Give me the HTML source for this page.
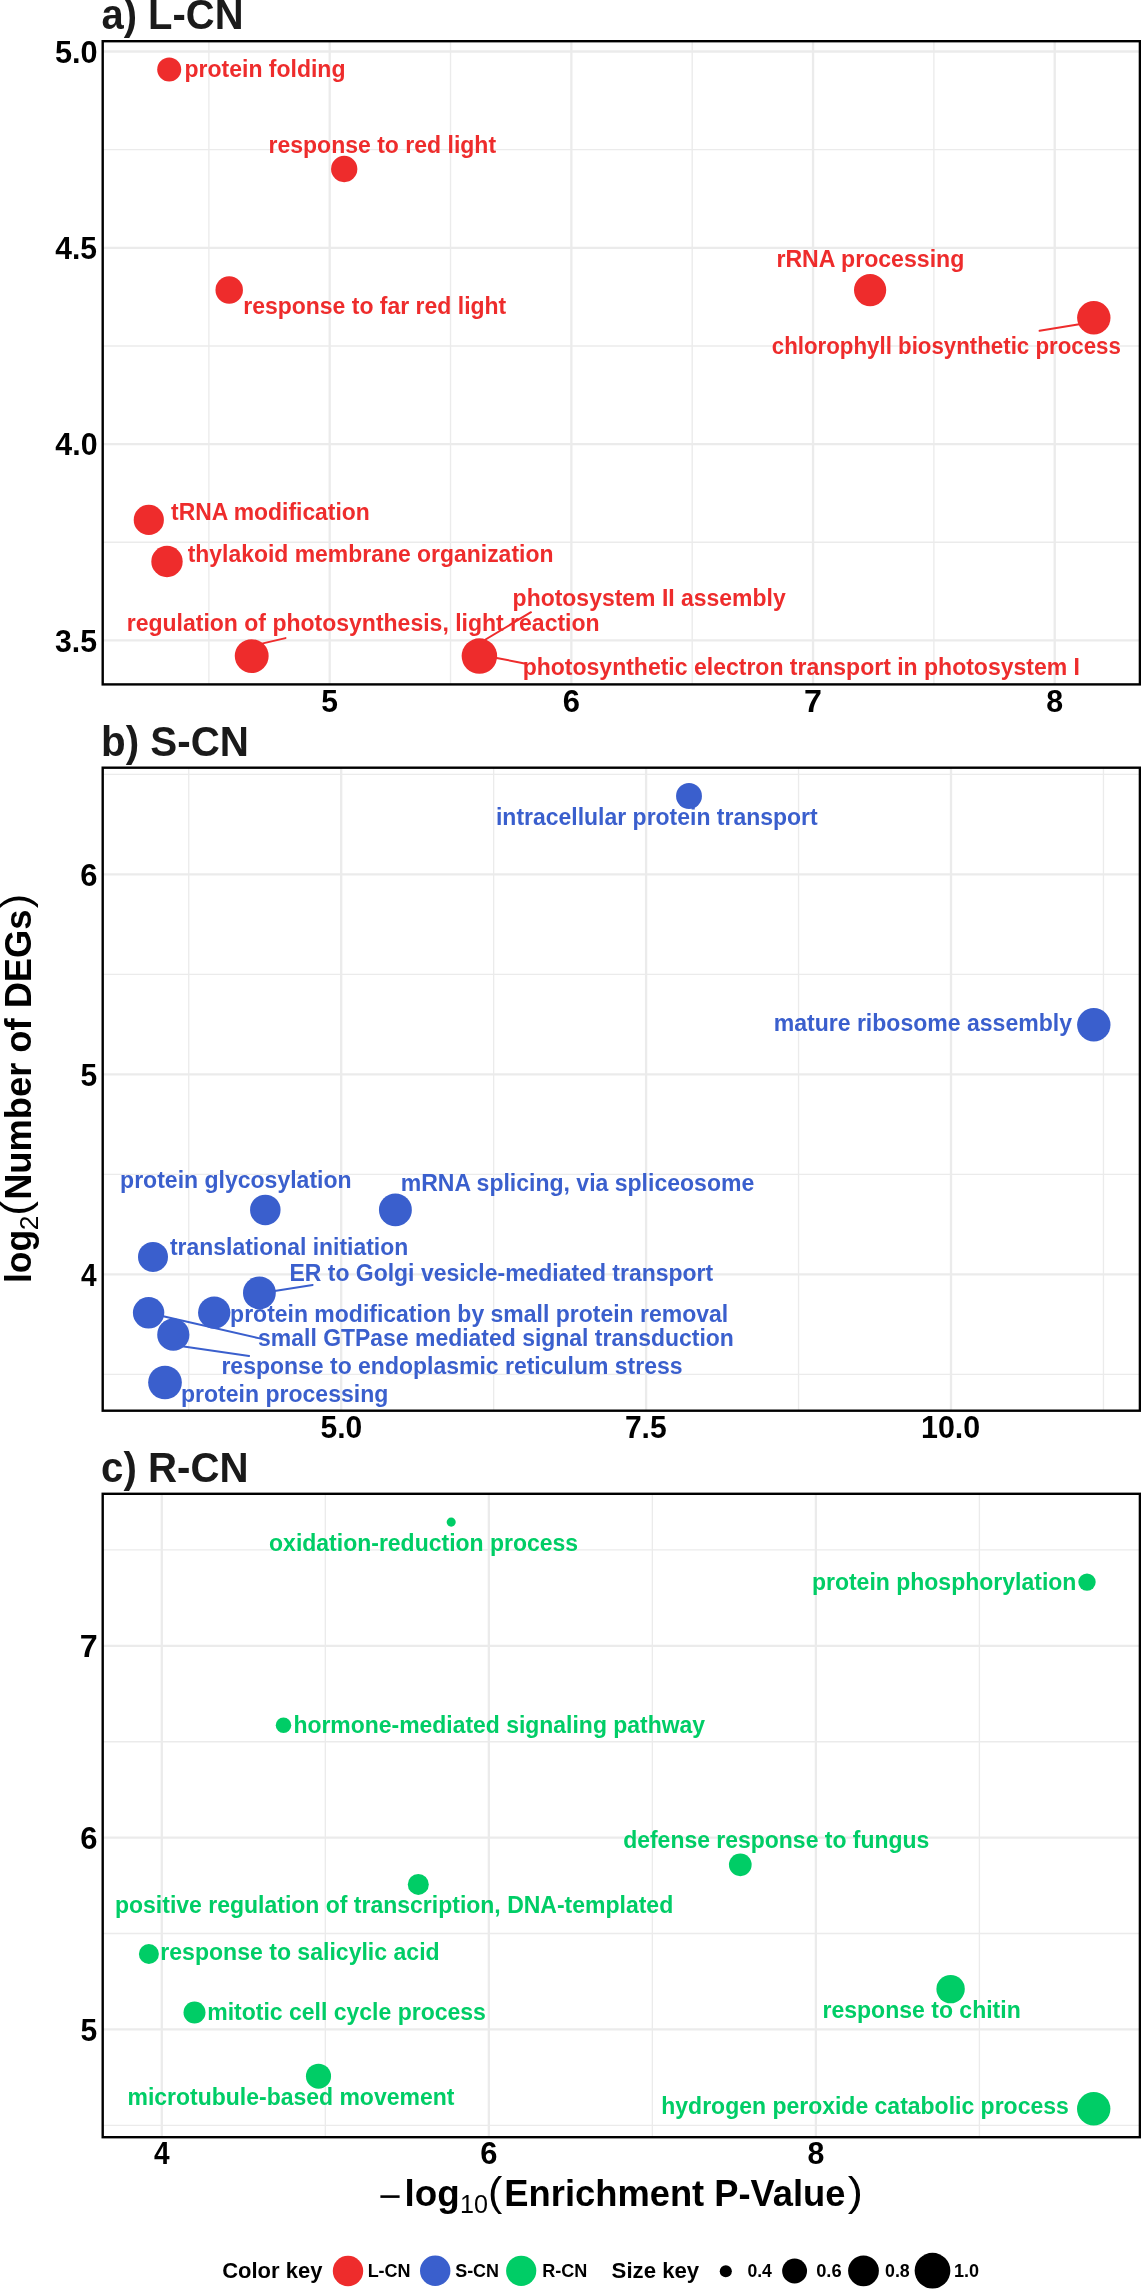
<!DOCTYPE html>
<html><head><meta charset="utf-8"><style>
html,body{margin:0;padding:0;background:#fff;}
svg{display:block;font-family:"Liberation Sans", sans-serif;will-change:transform;}
</style></head><body>
<svg width="1141" height="2289" viewBox="0 0 1141 2289">
<rect width="1141" height="2289" fill="#fff"/>
<line x1="208.87" y1="41.2" x2="208.87" y2="684.4" stroke="#EBEBEB" stroke-width="1.35"/>
<line x1="450.53" y1="41.2" x2="450.53" y2="684.4" stroke="#EBEBEB" stroke-width="1.35"/>
<line x1="692.20" y1="41.2" x2="692.20" y2="684.4" stroke="#EBEBEB" stroke-width="1.35"/>
<line x1="933.88" y1="41.2" x2="933.88" y2="684.4" stroke="#EBEBEB" stroke-width="1.35"/>
<line x1="102.7" y1="149.65" x2="1139.9" y2="149.65" stroke="#EBEBEB" stroke-width="1.35"/>
<line x1="102.7" y1="345.95" x2="1139.9" y2="345.95" stroke="#EBEBEB" stroke-width="1.35"/>
<line x1="102.7" y1="542.25" x2="1139.9" y2="542.25" stroke="#EBEBEB" stroke-width="1.35"/>
<line x1="329.70" y1="41.2" x2="329.70" y2="684.4" stroke="#EBEBEB" stroke-width="2.3"/>
<line x1="571.37" y1="41.2" x2="571.37" y2="684.4" stroke="#EBEBEB" stroke-width="2.3"/>
<line x1="813.04" y1="41.2" x2="813.04" y2="684.4" stroke="#EBEBEB" stroke-width="2.3"/>
<line x1="1054.71" y1="41.2" x2="1054.71" y2="684.4" stroke="#EBEBEB" stroke-width="2.3"/>
<line x1="102.7" y1="51.50" x2="1139.9" y2="51.50" stroke="#EBEBEB" stroke-width="2.3"/>
<line x1="102.7" y1="247.80" x2="1139.9" y2="247.80" stroke="#EBEBEB" stroke-width="2.3"/>
<line x1="102.7" y1="444.10" x2="1139.9" y2="444.10" stroke="#EBEBEB" stroke-width="2.3"/>
<line x1="102.7" y1="640.40" x2="1139.9" y2="640.40" stroke="#EBEBEB" stroke-width="2.3"/>
<line x1="188.75" y1="767.7" x2="188.75" y2="1410.7" stroke="#EBEBEB" stroke-width="1.35"/>
<line x1="493.65" y1="767.7" x2="493.65" y2="1410.7" stroke="#EBEBEB" stroke-width="1.35"/>
<line x1="798.55" y1="767.7" x2="798.55" y2="1410.7" stroke="#EBEBEB" stroke-width="1.35"/>
<line x1="1103.45" y1="767.7" x2="1103.45" y2="1410.7" stroke="#EBEBEB" stroke-width="1.35"/>
<line x1="102.7" y1="774.40" x2="1139.9" y2="774.40" stroke="#EBEBEB" stroke-width="1.35"/>
<line x1="102.7" y1="974.40" x2="1139.9" y2="974.40" stroke="#EBEBEB" stroke-width="1.35"/>
<line x1="102.7" y1="1174.40" x2="1139.9" y2="1174.40" stroke="#EBEBEB" stroke-width="1.35"/>
<line x1="102.7" y1="1374.40" x2="1139.9" y2="1374.40" stroke="#EBEBEB" stroke-width="1.35"/>
<line x1="341.20" y1="767.7" x2="341.20" y2="1410.7" stroke="#EBEBEB" stroke-width="2.3"/>
<line x1="646.10" y1="767.7" x2="646.10" y2="1410.7" stroke="#EBEBEB" stroke-width="2.3"/>
<line x1="951.00" y1="767.7" x2="951.00" y2="1410.7" stroke="#EBEBEB" stroke-width="2.3"/>
<line x1="102.7" y1="874.40" x2="1139.9" y2="874.40" stroke="#EBEBEB" stroke-width="2.3"/>
<line x1="102.7" y1="1074.40" x2="1139.9" y2="1074.40" stroke="#EBEBEB" stroke-width="2.3"/>
<line x1="102.7" y1="1274.40" x2="1139.9" y2="1274.40" stroke="#EBEBEB" stroke-width="2.3"/>
<line x1="325.32" y1="1493.8" x2="325.32" y2="2137.2" stroke="#EBEBEB" stroke-width="1.35"/>
<line x1="652.36" y1="1493.8" x2="652.36" y2="2137.2" stroke="#EBEBEB" stroke-width="1.35"/>
<line x1="979.40" y1="1493.8" x2="979.40" y2="2137.2" stroke="#EBEBEB" stroke-width="1.35"/>
<line x1="102.7" y1="1549.90" x2="1139.9" y2="1549.90" stroke="#EBEBEB" stroke-width="1.35"/>
<line x1="102.7" y1="1741.70" x2="1139.9" y2="1741.70" stroke="#EBEBEB" stroke-width="1.35"/>
<line x1="102.7" y1="1933.50" x2="1139.9" y2="1933.50" stroke="#EBEBEB" stroke-width="1.35"/>
<line x1="102.7" y1="2125.30" x2="1139.9" y2="2125.30" stroke="#EBEBEB" stroke-width="1.35"/>
<line x1="161.80" y1="1493.8" x2="161.80" y2="2137.2" stroke="#EBEBEB" stroke-width="2.3"/>
<line x1="488.84" y1="1493.8" x2="488.84" y2="2137.2" stroke="#EBEBEB" stroke-width="2.3"/>
<line x1="815.88" y1="1493.8" x2="815.88" y2="2137.2" stroke="#EBEBEB" stroke-width="2.3"/>
<line x1="102.7" y1="1645.80" x2="1139.9" y2="1645.80" stroke="#EBEBEB" stroke-width="2.3"/>
<line x1="102.7" y1="1837.60" x2="1139.9" y2="1837.60" stroke="#EBEBEB" stroke-width="2.3"/>
<line x1="102.7" y1="2029.40" x2="1139.9" y2="2029.40" stroke="#EBEBEB" stroke-width="2.3"/>
<line x1="1080.8" y1="324.1" x2="1039.6" y2="330.8" stroke="#EE2C2C" stroke-width="2.0" stroke-linecap="round"/>
<line x1="259.7" y1="644.1" x2="285.5" y2="638.1" stroke="#EE2C2C" stroke-width="2.0" stroke-linecap="round"/>
<line x1="483.0" y1="641.0" x2="531.0" y2="612.2" stroke="#EE2C2C" stroke-width="2.0" stroke-linecap="round"/>
<line x1="494.0" y1="657.4" x2="524.6" y2="663.4" stroke="#EE2C2C" stroke-width="2.0" stroke-linecap="round"/>
<line x1="273.0" y1="1291.3" x2="312.6" y2="1285.0" stroke="#3A5FCD" stroke-width="2.0" stroke-linecap="round"/>
<line x1="161.0" y1="1315.8" x2="259.6" y2="1338.4" stroke="#3A5FCD" stroke-width="2.0" stroke-linecap="round"/>
<line x1="182.0" y1="1346.3" x2="249.1" y2="1355.9" stroke="#3A5FCD" stroke-width="2.0" stroke-linecap="round"/>
<circle cx="169.2" cy="69.6" r="12.00" fill="#EE2C2C"/>
<circle cx="344.2" cy="169.0" r="13.15" fill="#EE2C2C"/>
<circle cx="229.2" cy="290.0" r="13.75" fill="#EE2C2C"/>
<circle cx="870.1" cy="290.1" r="16.10" fill="#EE2C2C"/>
<circle cx="1093.8" cy="317.8" r="16.70" fill="#EE2C2C"/>
<circle cx="148.8" cy="519.9" r="15.10" fill="#EE2C2C"/>
<circle cx="167.0" cy="561.5" r="15.70" fill="#EE2C2C"/>
<circle cx="251.7" cy="656.1" r="16.95" fill="#EE2C2C"/>
<circle cx="479.4" cy="656.1" r="17.75" fill="#EE2C2C"/>
<circle cx="689.0" cy="796.0" r="12.95" fill="#3A5FCD"/>
<circle cx="1093.8" cy="1024.8" r="16.70" fill="#3A5FCD"/>
<circle cx="265.3" cy="1209.9" r="15.25" fill="#3A5FCD"/>
<circle cx="395.4" cy="1209.9" r="16.45" fill="#3A5FCD"/>
<circle cx="153.0" cy="1256.9" r="15.00" fill="#3A5FCD"/>
<circle cx="259.4" cy="1292.9" r="16.40" fill="#3A5FCD"/>
<circle cx="148.6" cy="1312.8" r="15.70" fill="#3A5FCD"/>
<circle cx="214.2" cy="1312.6" r="16.15" fill="#3A5FCD"/>
<circle cx="173.3" cy="1334.7" r="16.10" fill="#3A5FCD"/>
<circle cx="165.0" cy="1382.5" r="16.85" fill="#3A5FCD"/>
<circle cx="451.2" cy="1522.1" r="4.55" fill="#00CD66"/>
<circle cx="1087.0" cy="1582.1" r="8.70" fill="#00CD66"/>
<circle cx="283.5" cy="1725.3" r="7.75" fill="#00CD66"/>
<circle cx="740.3" cy="1864.8" r="11.35" fill="#00CD66"/>
<circle cx="418.3" cy="1884.4" r="10.50" fill="#00CD66"/>
<circle cx="148.9" cy="1954.0" r="10.00" fill="#00CD66"/>
<circle cx="194.5" cy="2012.5" r="11.00" fill="#00CD66"/>
<circle cx="318.5" cy="2076.2" r="12.55" fill="#00CD66"/>
<circle cx="950.6" cy="1989.1" r="14.20" fill="#00CD66"/>
<circle cx="1093.7" cy="2108.8" r="16.70" fill="#00CD66"/>
<text x="184.51" y="76.60" font-size="23" font-weight="bold" fill="#EE2C2C" textLength="160.96" lengthAdjust="spacingAndGlyphs">protein folding</text>
<text x="268.50" y="153.30" font-size="23" font-weight="bold" fill="#EE2C2C" textLength="227.55" lengthAdjust="spacingAndGlyphs">response to red light</text>
<text x="243.21" y="314.20" font-size="23" font-weight="bold" fill="#EE2C2C" textLength="263.06" lengthAdjust="spacingAndGlyphs">response to far red light</text>
<text x="776.40" y="266.60" font-size="23" font-weight="bold" fill="#EE2C2C" textLength="187.94" lengthAdjust="spacingAndGlyphs">rRNA processing</text>
<text x="771.81" y="353.70" font-size="23" font-weight="bold" fill="#EE2C2C" textLength="349.09" lengthAdjust="spacingAndGlyphs">chlorophyll biosynthetic process</text>
<text x="171.07" y="519.60" font-size="23" font-weight="bold" fill="#EE2C2C" textLength="198.70" lengthAdjust="spacingAndGlyphs">tRNA modification</text>
<text x="187.67" y="562.00" font-size="23" font-weight="bold" fill="#EE2C2C" textLength="365.76" lengthAdjust="spacingAndGlyphs">thylakoid membrane organization</text>
<text x="126.70" y="631.40" font-size="23" font-weight="bold" fill="#EE2C2C" textLength="472.92" lengthAdjust="spacingAndGlyphs">regulation of photosynthesis, light reaction</text>
<text x="512.61" y="606.30" font-size="23" font-weight="bold" fill="#EE2C2C" textLength="273.08" lengthAdjust="spacingAndGlyphs">photosystem II assembly</text>
<text x="522.70" y="675.20" font-size="23" font-weight="bold" fill="#EE2C2C" textLength="557.31" lengthAdjust="spacingAndGlyphs">photosynthetic electron transport in photosystem I</text>
<text x="495.99" y="825.00" font-size="23" font-weight="bold" fill="#3A5FCD" textLength="321.70" lengthAdjust="spacingAndGlyphs">intracellular protein transport</text>
<text x="773.70" y="1030.80" font-size="23" font-weight="bold" fill="#3A5FCD" textLength="298.31" lengthAdjust="spacingAndGlyphs">mature ribosome assembly</text>
<text x="120.10" y="1187.80" font-size="23" font-weight="bold" fill="#3A5FCD" textLength="231.53" lengthAdjust="spacingAndGlyphs">protein glycosylation</text>
<text x="400.70" y="1190.50" font-size="23" font-weight="bold" fill="#3A5FCD" textLength="353.54" lengthAdjust="spacingAndGlyphs">mRNA splicing, via spliceosome</text>
<text x="169.97" y="1255.10" font-size="23" font-weight="bold" fill="#3A5FCD" textLength="238.20" lengthAdjust="spacingAndGlyphs">translational initiation</text>
<text x="289.51" y="1280.50" font-size="23" font-weight="bold" fill="#3A5FCD" textLength="423.60" lengthAdjust="spacingAndGlyphs">ER to Golgi vesicle-mediated transport</text>
<text x="230.11" y="1322.30" font-size="23" font-weight="bold" fill="#3A5FCD" textLength="498.02" lengthAdjust="spacingAndGlyphs">protein modification by small protein removal</text>
<text x="258.10" y="1345.60" font-size="23" font-weight="bold" fill="#3A5FCD" textLength="475.74" lengthAdjust="spacingAndGlyphs">small GTPase mediated signal transduction</text>
<text x="221.41" y="1374.40" font-size="23" font-weight="bold" fill="#3A5FCD" textLength="461.17" lengthAdjust="spacingAndGlyphs">response to endoplasmic reticulum stress</text>
<text x="181.00" y="1401.50" font-size="23" font-weight="bold" fill="#3A5FCD" textLength="207.33" lengthAdjust="spacingAndGlyphs">protein processing</text>
<text x="269.08" y="1550.50" font-size="23" font-weight="bold" fill="#00CD66" textLength="309.08" lengthAdjust="spacingAndGlyphs">oxidation-reduction process</text>
<text x="811.91" y="1590.00" font-size="23" font-weight="bold" fill="#00CD66" textLength="264.47" lengthAdjust="spacingAndGlyphs">protein phosphorylation</text>
<text x="293.39" y="1733.40" font-size="23" font-weight="bold" fill="#00CD66" textLength="411.67" lengthAdjust="spacingAndGlyphs">hormone-mediated signaling pathway</text>
<text x="623.18" y="1848.20" font-size="23" font-weight="bold" fill="#00CD66" textLength="306.16" lengthAdjust="spacingAndGlyphs">defense response to fungus</text>
<text x="115.01" y="1912.50" font-size="23" font-weight="bold" fill="#00CD66" textLength="558.20" lengthAdjust="spacingAndGlyphs">positive regulation of transcription, DNA-templated</text>
<text x="160.30" y="1959.70" font-size="23" font-weight="bold" fill="#00CD66" textLength="279.34" lengthAdjust="spacingAndGlyphs">response to salicylic acid</text>
<text x="207.21" y="2019.80" font-size="23" font-weight="bold" fill="#00CD66" textLength="278.67" lengthAdjust="spacingAndGlyphs">mitotic cell cycle process</text>
<text x="127.51" y="2104.50" font-size="23" font-weight="bold" fill="#00CD66" textLength="326.85" lengthAdjust="spacingAndGlyphs">microtubule-based movement</text>
<text x="822.50" y="2017.50" font-size="23" font-weight="bold" fill="#00CD66" textLength="198.23" lengthAdjust="spacingAndGlyphs">response to chitin</text>
<text x="661.29" y="2114.30" font-size="23" font-weight="bold" fill="#00CD66" textLength="407.49" lengthAdjust="spacingAndGlyphs">hydrogen peroxide catabolic process</text>
<rect x="102.7" y="41.2" width="1037.2" height="643.1999999999999" fill="none" stroke="#000" stroke-width="2.4"/>
<rect x="102.7" y="767.7" width="1037.2" height="643.0" fill="none" stroke="#000" stroke-width="2.4"/>
<rect x="102.7" y="1493.8" width="1037.2" height="643.3999999999999" fill="none" stroke="#000" stroke-width="2.4"/>
<text x="54.88" y="62.60" font-size="32" font-weight="bold" fill="#000" textLength="42.65" lengthAdjust="spacingAndGlyphs">5.0</text>
<text x="55.35" y="258.90" font-size="32" font-weight="bold" fill="#000" textLength="41.70" lengthAdjust="spacingAndGlyphs">4.5</text>
<text x="55.34" y="455.20" font-size="32" font-weight="bold" fill="#000" textLength="42.17" lengthAdjust="spacingAndGlyphs">4.0</text>
<text x="55.04" y="651.50" font-size="32" font-weight="bold" fill="#000" textLength="42.02" lengthAdjust="spacingAndGlyphs">3.5</text>
<text x="321.30" y="712.30" font-size="32" font-weight="bold" fill="#000" textLength="16.69" lengthAdjust="spacingAndGlyphs">5</text>
<text x="562.79" y="712.30" font-size="32" font-weight="bold" fill="#000" textLength="17.20" lengthAdjust="spacingAndGlyphs">6</text>
<text x="804.09" y="712.30" font-size="32" font-weight="bold" fill="#000" textLength="17.94" lengthAdjust="spacingAndGlyphs">7</text>
<text x="1046.30" y="712.30" font-size="32" font-weight="bold" fill="#000" textLength="16.85" lengthAdjust="spacingAndGlyphs">8</text>
<text x="80.22" y="885.70" font-size="32" font-weight="bold" fill="#000" textLength="17.20" lengthAdjust="spacingAndGlyphs">6</text>
<text x="80.40" y="1085.70" font-size="32" font-weight="bold" fill="#000" textLength="16.69" lengthAdjust="spacingAndGlyphs">5</text>
<text x="80.88" y="1285.70" font-size="32" font-weight="bold" fill="#000" textLength="15.59" lengthAdjust="spacingAndGlyphs">4</text>
<text x="320.50" y="1438.40" font-size="32" font-weight="bold" fill="#000" textLength="41.70" lengthAdjust="spacingAndGlyphs">5.0</text>
<text x="624.95" y="1438.40" font-size="32" font-weight="bold" fill="#000" textLength="41.70" lengthAdjust="spacingAndGlyphs">7.5</text>
<text x="921.02" y="1438.40" font-size="32" font-weight="bold" fill="#000" textLength="59.24" lengthAdjust="spacingAndGlyphs">10.0</text>
<text x="79.85" y="1657.10" font-size="32" font-weight="bold" fill="#000" textLength="17.94" lengthAdjust="spacingAndGlyphs">7</text>
<text x="80.22" y="1848.90" font-size="32" font-weight="bold" fill="#000" textLength="17.20" lengthAdjust="spacingAndGlyphs">6</text>
<text x="80.40" y="2040.70" font-size="32" font-weight="bold" fill="#000" textLength="16.69" lengthAdjust="spacingAndGlyphs">5</text>
<text x="153.88" y="2164.40" font-size="32" font-weight="bold" fill="#000" textLength="15.59" lengthAdjust="spacingAndGlyphs">4</text>
<text x="480.26" y="2164.40" font-size="32" font-weight="bold" fill="#000" textLength="17.20" lengthAdjust="spacingAndGlyphs">6</text>
<text x="807.47" y="2164.40" font-size="32" font-weight="bold" fill="#000" textLength="16.85" lengthAdjust="spacingAndGlyphs">8</text>
<text x="101.50" y="29.20" font-size="42" font-weight="bold" fill="#1A1A1A" textLength="142.01" lengthAdjust="spacingAndGlyphs">a) L-CN</text>
<text x="100.98" y="755.90" font-size="42" font-weight="bold" fill="#1A1A1A" textLength="148.00" lengthAdjust="spacingAndGlyphs">b) S-CN</text>
<text x="101.09" y="1482.00" font-size="42" font-weight="bold" fill="#1A1A1A" textLength="147.49" lengthAdjust="spacingAndGlyphs">c) R-CN</text>
<rect x="380.4" y="2195.3" width="19.2" height="2.6" fill="#000"/>
<text x="404.63" y="2206.20" font-size="36" font-weight="bold" fill="#000" textLength="55.15" lengthAdjust="spacingAndGlyphs">log</text>
<text x="460.12" y="2212.70" font-size="26" font-weight="normal" fill="#000" textLength="27.95" lengthAdjust="spacingAndGlyphs">10</text>
<text x="488.12" y="2205.60" font-size="41" font-weight="normal" fill="#000" textLength="14.33" lengthAdjust="spacingAndGlyphs">(</text>
<text x="504.34" y="2206.20" font-size="36" font-weight="bold" fill="#000" textLength="341.20" lengthAdjust="spacingAndGlyphs">Enrichment P-Value</text>
<text x="847.75" y="2205.60" font-size="41" font-weight="normal" fill="#000" textLength="15.12" lengthAdjust="spacingAndGlyphs">)</text>
<g transform="rotate(-90)"><text x="-1282.98" y="31.00" font-size="36" font-weight="bold" fill="#000" textLength="53.06" lengthAdjust="spacingAndGlyphs">log</text><text x="-1230.32" y="37.70" font-size="26" font-weight="normal" fill="#000" textLength="14.67" lengthAdjust="spacingAndGlyphs">2</text><text x="-1215.87" y="30.20" font-size="41" font-weight="normal" fill="#000" textLength="14.83" lengthAdjust="spacingAndGlyphs">(</text><text x="-1199.86" y="31.00" font-size="36" font-weight="bold" fill="#000" textLength="290.35" lengthAdjust="spacingAndGlyphs">Number of DEGs</text><text x="-908.33" y="30.20" font-size="41" font-weight="normal" fill="#000" textLength="14.47" lengthAdjust="spacingAndGlyphs">)</text></g>
<text x="222.22" y="2278.40" font-size="22" font-weight="bold" fill="#000" textLength="100.14" lengthAdjust="spacingAndGlyphs">Color key</text>
<circle cx="348.0" cy="2271.0" r="15.20" fill="#EE2C2C"/>
<text x="367.63" y="2277.40" font-size="18" font-weight="bold" fill="#000" textLength="43.00" lengthAdjust="spacingAndGlyphs">L-CN</text>
<circle cx="435.2" cy="2270.8" r="15.20" fill="#3A5FCD"/>
<text x="455.16" y="2277.40" font-size="18" font-weight="bold" fill="#000" textLength="43.89" lengthAdjust="spacingAndGlyphs">S-CN</text>
<circle cx="521.2" cy="2270.8" r="15.10" fill="#00CD66"/>
<text x="542.23" y="2277.40" font-size="18" font-weight="bold" fill="#000" textLength="45.13" lengthAdjust="spacingAndGlyphs">R-CN</text>
<text x="611.63" y="2278.30" font-size="22" font-weight="bold" fill="#000" textLength="87.53" lengthAdjust="spacingAndGlyphs">Size key</text>
<circle cx="725.8" cy="2271.3" r="6.05" fill="#000"/>
<text x="747.40" y="2277.40" font-size="18" font-weight="bold" fill="#000" textLength="24.50" lengthAdjust="spacingAndGlyphs">0.4</text>
<circle cx="794.6" cy="2271.0" r="12.45" fill="#000"/>
<text x="816.17" y="2277.40" font-size="18" font-weight="bold" fill="#000" textLength="25.48" lengthAdjust="spacingAndGlyphs">0.6</text>
<circle cx="863.5" cy="2270.8" r="15.40" fill="#000"/>
<text x="884.99" y="2277.40" font-size="18" font-weight="bold" fill="#000" textLength="24.75" lengthAdjust="spacingAndGlyphs">0.8</text>
<circle cx="932.5" cy="2270.7" r="17.85" fill="#000"/>
<text x="953.93" y="2277.40" font-size="18" font-weight="bold" fill="#000" textLength="25.10" lengthAdjust="spacingAndGlyphs">1.0</text>
</svg>
</body></html>
